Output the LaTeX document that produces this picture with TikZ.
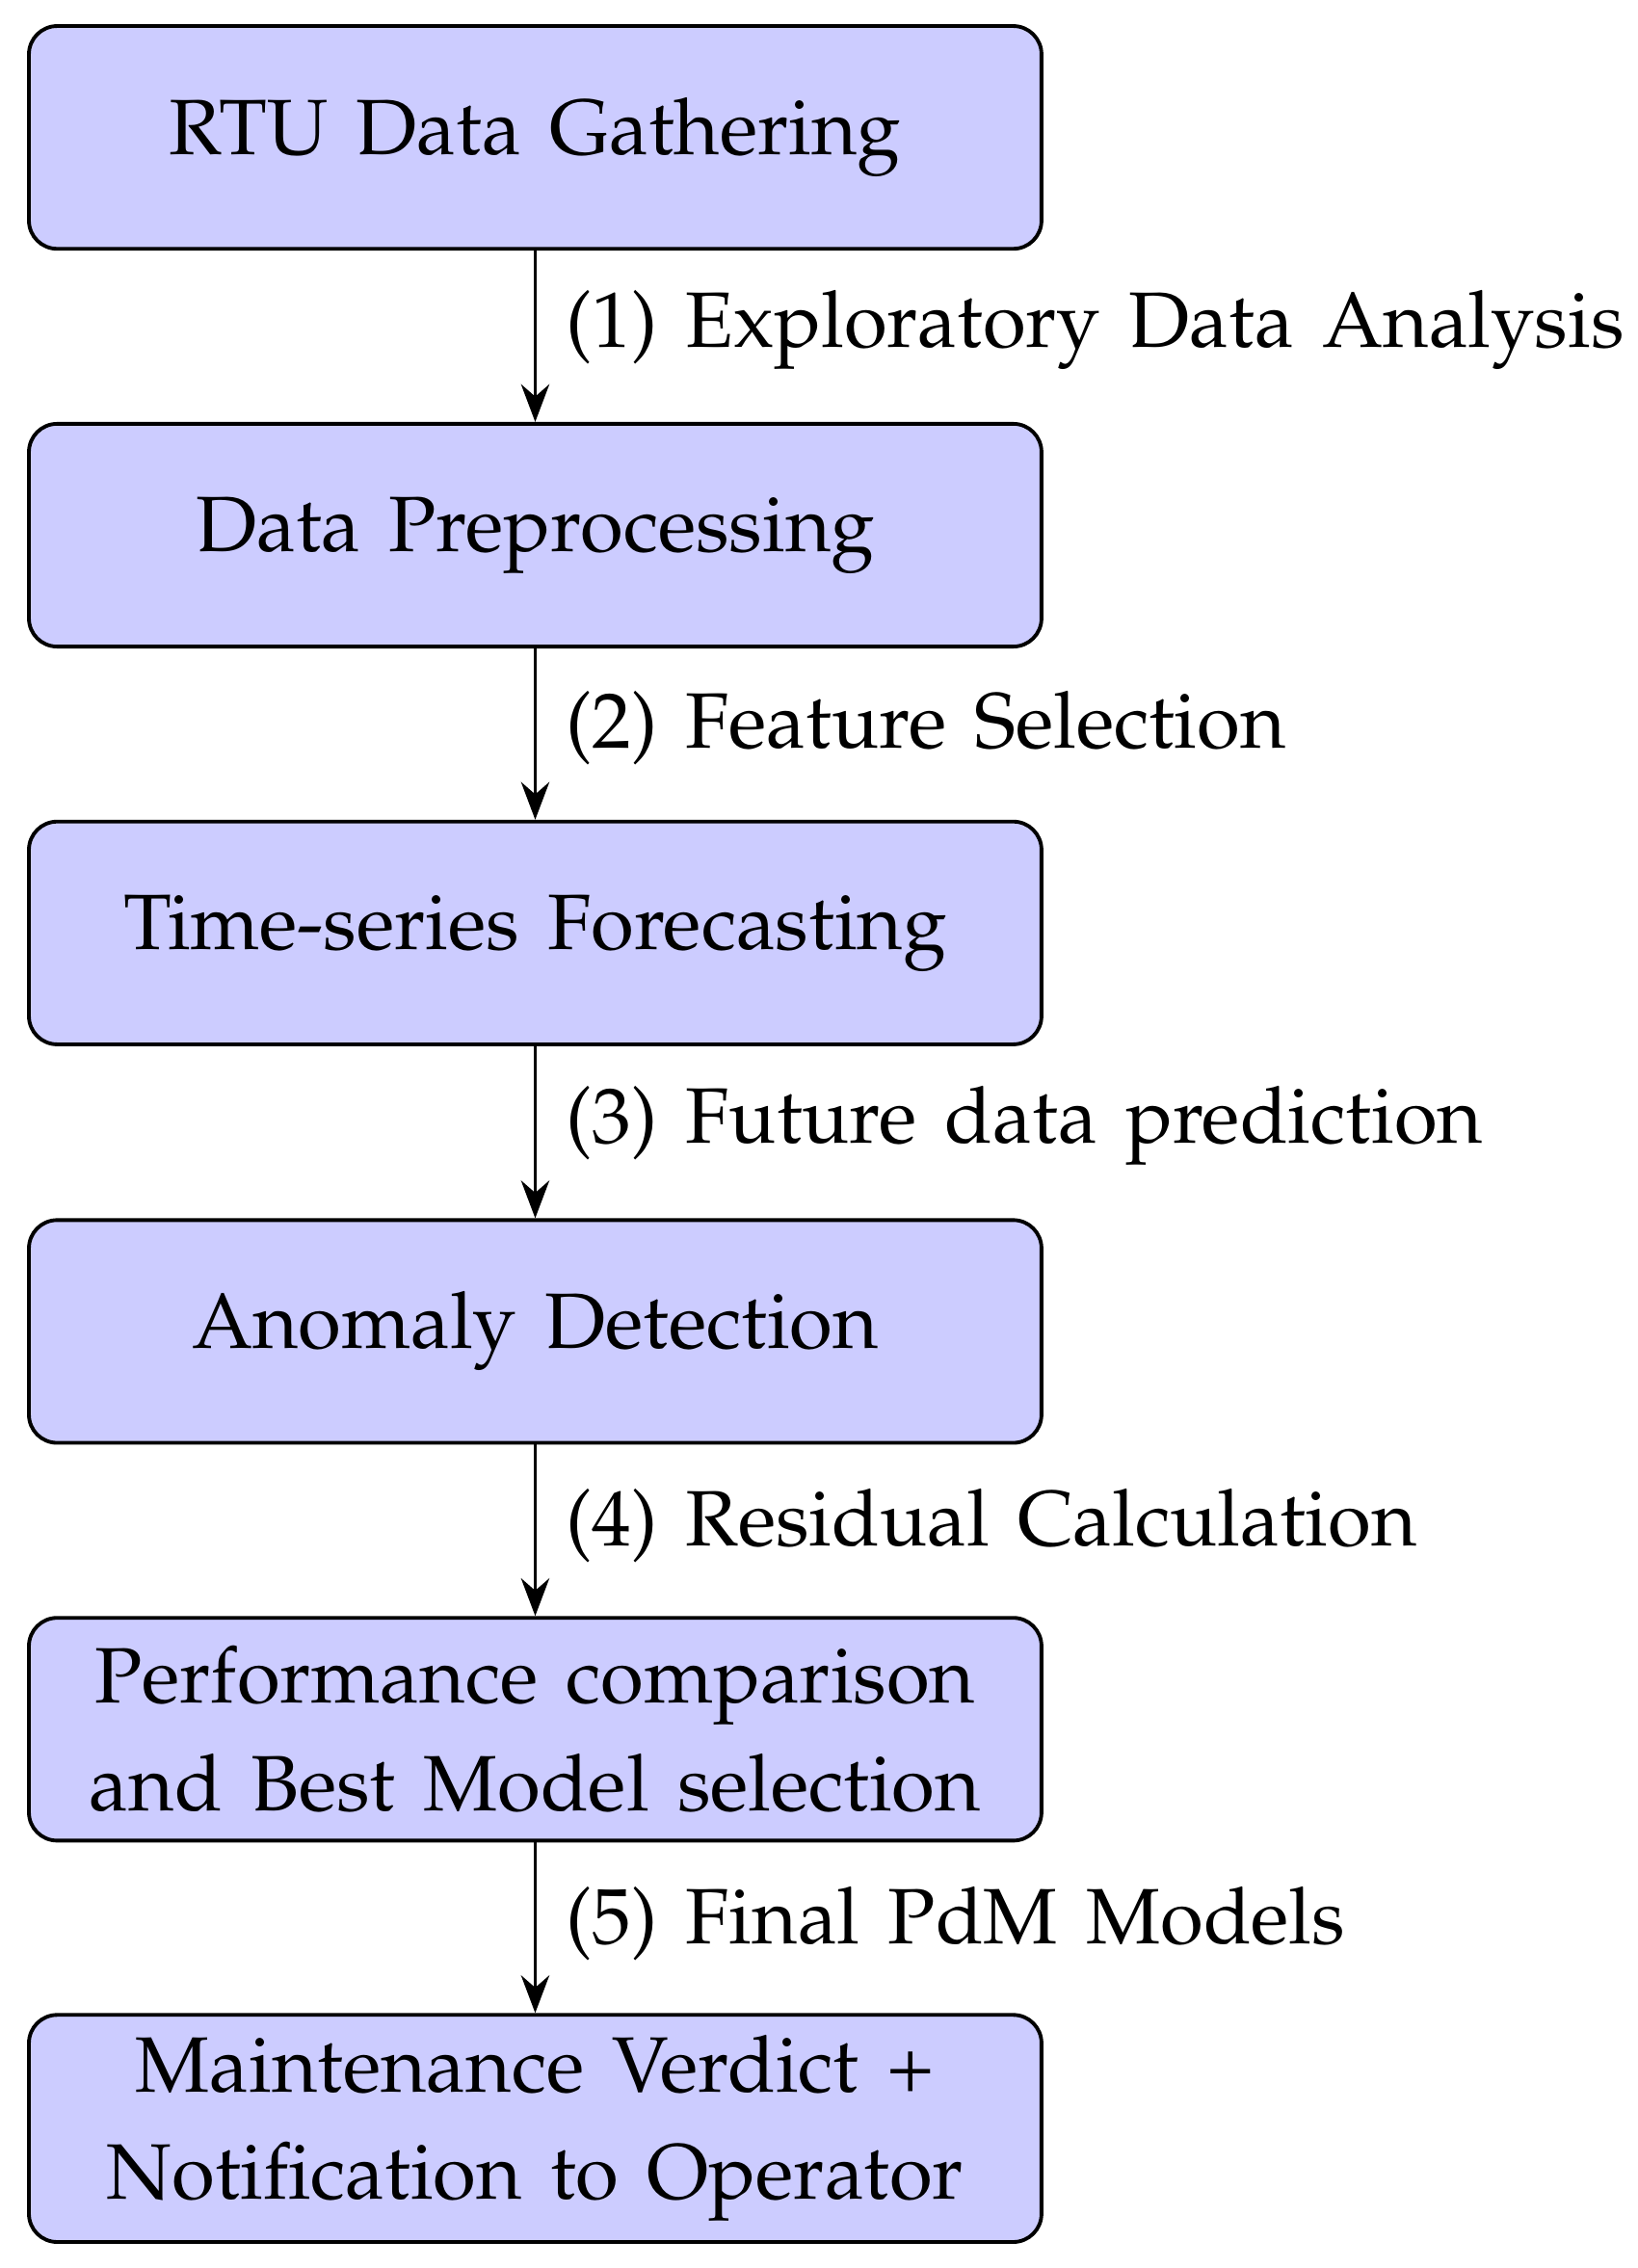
\documentclass[tikz,border=0pt]{standalone}
\usepackage[T1]{fontenc}
\usepackage{mathpazo}
\usetikzlibrary{arrows.meta}
\definecolor{boxfill}{RGB}{204,204,255}
\newcommand\myfnt{\fontsize{9.5}{13}\selectfont\spaceskip=0.36em plus 0.1em minus 0.05em\relax}
\tikzset{
  every node/.append style={font=\myfnt},
  stepbox/.style={draw=black, line width=0.45pt, fill=boxfill, rounded corners=1.2mm, minimum width=700*0.00615cm, minimum height=154*0.00615cm, align=center, inner sep=0pt},
  conn/.style={-{Stealth[length=1.6mm,width=1.2mm]}, line width=0.45pt},
  lab/.style={anchor=west, inner sep=0pt}
}
\begin{document}
\begin{tikzpicture}[x=0.00615cm, y=-0.00615cm]
\useasboundingbox (0,0) rectangle (1132,1568);
\node[stepbox] (b1) at (370,95) {RTU Data Gathering};
\node[stepbox] (b2) at (370,370) {Data Preprocessing};
\node[stepbox] (b3) at (370,645) {Time-series Forecasting};
\node[stepbox] (b4) at (370,920.5) {Anomaly Detection};
\node[stepbox] (b5) at (370,1195.5) {Performance comparison\\and Best Model selection};
\node[stepbox, minimum height=157*0.00615cm] (b6) at (370,1471.5) {Maintenance Verdict +\\Notification to Operator};
\draw[conn] (b1) -- (b2);
\draw[conn] (b2) -- (b3);
\draw[conn] (b3) -- (b4);
\draw[conn] (b4) -- (b5);
\draw[conn] (b5) -- (b6);
\node[lab] (l1) at (390,228) {(1) Exploratory Data Analysis};
\node[lab] (l2) at (390,503) {(2) Feature Selection};
\node[lab] (l3) at (390,778) {(3) Future data prediction};
\node[lab] (l4) at (390,1055) {(4) Residual Calculation};
\node[lab] (l5) at (390,1330) {(5) Final PdM Models};
\end{tikzpicture}
\end{document}
